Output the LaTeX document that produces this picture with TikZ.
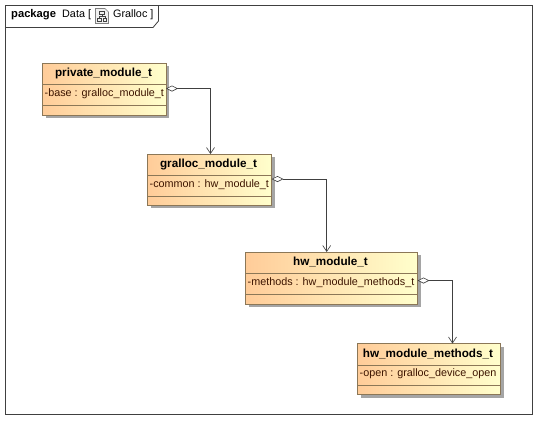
\documentclass[tikz,border=0pt]{standalone}
\usepackage{xcolor}
\usepackage{fontspec}
\setmainfont{Liberation Sans}
\usetikzlibrary{arrows.meta,positioning,calc}
\definecolor{umlEdge}  {RGB}{139,119, 87}
\definecolor{umlLeft}  {RGB}{255,204,153}
\definecolor{umlRight} {RGB}{255,255,204}
\definecolor{umlShadow}{RGB}{165,165,165}
\definecolor{umlLine}  {RGB}{ 64, 64, 64}
\definecolor{umlAttr}  {RGB}{ 60, 20,  0}

\begin{document}
\begin{tikzpicture}[
  x=1pt,y=-1pt,
  every node/.style={font=\fontsize{10.8}{12}\selectfont},
  box/.style={draw=umlEdge,line width=0.9pt,shading=axis,left color=umlLeft,right color=umlRight,
              inner sep=0pt,outer sep=0pt,anchor=north west},
  title/.style={font=\fontsize{11.7}{13}\selectfont\bfseries,anchor=center,inner sep=0pt},
  attr/.style={text=umlAttr,anchor=west,inner sep=0pt},
  sep/.style={draw=umlEdge,line width=0.9pt},
  shade/.style={fill=umlShadow,draw=none},
  assoc/.style={umlLine,line width=0.9pt,
                {Diamond[open,fill=white,length=12pt,width=6pt,line width=0.6pt]}-{Straight Barb[length=6pt,width=8pt,line width=0.6pt]}}
]
\useasboundingbox (0,0) rectangle (547,429);
\fill[white] (0,0) rectangle (547,429);

% frame and tab
\draw[umlLine,line width=0.8pt] (5.5,5.5) rectangle (532.5,414.5);
\draw[umlLine,line width=0.8pt] (5.5,27.5) -- (153,27.5) -- (158.5,21) -- (158.5,5.5);
\node[anchor=west,inner sep=0pt,font=\fontsize{11.2}{13}\selectfont\bfseries] (pkgKey) at (11,15) {package};
\node[anchor=west,inner sep=0pt] (pkgName) at (62,15) {Data [};
\node[anchor=west,inner sep=0pt] (pkgDiag) at (113,15) {Gralloc ]};

% diagram icon
\draw[gray,line width=0.6pt,fill=black!6] (95.5,8.5) -- (105,8.5) -- (108.5,12) -- (108.5,23.5) -- (95.5,23.5) -- cycle;
\draw[black!75,line width=0.6pt] (99.5,11.5) rectangle (104.5,14.5);
\draw[black!75,line width=0.6pt] (97.5,18) rectangle (101,21.5);
\draw[black!75,line width=0.6pt] (103,18) rectangle (106.5,21.5);
\draw[black!75,line width=0.5pt] (102,14.5) -- (102,16.5) (99.2,18) -- (99.2,16.5) -- (104.8,16.5) -- (104.8,18);

% private_module_t
\fill[shade] (45.5,66) rectangle (169,118);
\node[box,minimum width=123.5pt,minimum height=52pt] (private) at (42.5,63) {};
\draw[sep] (42.5,84) -- (166,84) (42.5,105) -- (166,105);
\node[title] (privateName) at (103.5,73) {private\_module\_t};
\node[attr] (privateAttr) at (44.5,94) {-base : gralloc\_module\_t};

% gralloc_module_t
\fill[shade] (150.5,157) rectangle (274.5,208);
\node[box,minimum width=124pt,minimum height=51pt] (gralloc) at (147.5,154) {};
\draw[sep] (147.5,175) -- (271.5,175) (147.5,196) -- (271.5,196);
\node[title] (grallocName) at (208.5,164) {gralloc\_module\_t};
\node[attr] (grallocAttr) at (149.5,185) {-common : hw\_module\_t};

% hw_module_t
\fill[shade] (248.5,255) rectangle (420.5,307);
\node[box,minimum width=172pt,minimum height=52pt] (hwModule) at (245.5,252) {};
\draw[sep] (245.5,273) -- (417.5,273) (245.5,294) -- (417.5,294);
\node[title] (hwModuleName) at (330.5,262) {hw\_module\_t};
\node[attr] (hwModuleAttr) at (247.5,283) {-methods : hw\_module\_methods\_t};

% hw_module_methods_t
\fill[shade] (360.5,346.5) rectangle (503.5,397.5);
\node[box,minimum width=143pt,minimum height=51pt] (hwMethods) at (357.5,343.5) {};
\draw[sep] (357.5,365) -- (500.5,365) (357.5,385) -- (500.5,385);
\node[title] (hwMethodsName) at (428,353.5) {hw\_module\_methods\_t};
\node[attr] (hwMethodsAttr) at (359.5,374) {-open : gralloc\_device\_open};

% associations
\coordinate (privateOut) at (166,88.5);
\coordinate (grallocIn) at (210.5,154);
\coordinate (grallocOut) at (271.5,179);
\coordinate (hwModuleIn) at (326.7,252);
\coordinate (hwModuleOut) at (417.5,280.5);
\coordinate (hwMethodsIn) at (452.5,343.5);
\draw[assoc] (privateOut) -| (grallocIn);
\draw[assoc] (grallocOut) -| (hwModuleIn);
\draw[assoc] (hwModuleOut) -| (hwMethodsIn);
\end{tikzpicture}
\end{document}
